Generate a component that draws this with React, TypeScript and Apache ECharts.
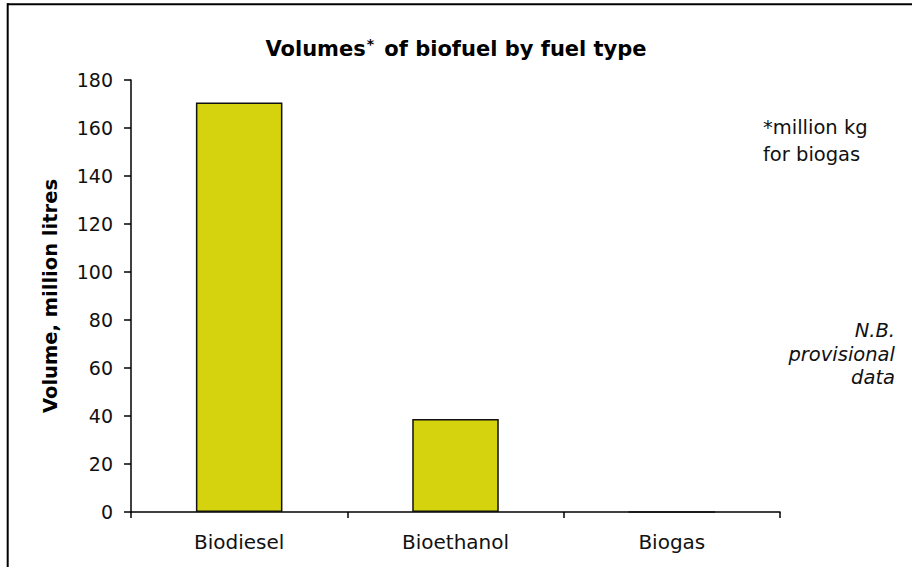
import React, { useEffect, useRef } from "react";
import * as echarts from "echarts";

const categories = ["Biodiesel", "Bioethanol", "Biogas"];
const volumes = [170.6, 38.8, 0];
const yMin = 0;
const yMax = 180;
const yInterval = 20;
const titleText = "{a|Volumes}{s|*}{a| of biofuel by fuel type}";
const yAxisTitle = "Volume, million litres";
const footnoteLines = ["*million kg", "for biogas"];
const noteLines = ["N.B.", "provisional", "data"];

const FONT = "DejaVu Sans";

export default function App() {
  const ref = useRef<HTMLDivElement>(null);
  useEffect(() => {
    document.body.style.margin = "0";
    if (!ref.current) return;
    const chart = echarts.init(ref.current, null, { renderer: "svg" });
    chart.setOption({
      animation: false,
      backgroundColor: "#ffffff",
      title: {
        text: titleText,
        left: "center",
        top: 32,
        textStyle: {
          rich: {
            a: { fontFamily: FONT, fontWeight: "bold", fontSize: 21, color: "#000" },
            s: { fontFamily: FONT, fontWeight: "bold", fontSize: 14, color: "#000", verticalAlign: "top", padding: [0, 3, 10, 1] },
          },
        },
      },
      grid: { left: 131, right: 132, top: 80, bottom: 55, containLabel: false },
      xAxis: {
        type: "category",
        data: categories,
        axisLine: { show: true, lineStyle: { color: "#000", width: 1.5 } },
        axisTick: { show: true, alignWithLabel: false, length: 6, lineStyle: { color: "#000", width: 1.5 } },
        axisLabel: { fontFamily: FONT, fontSize: 20, color: "#111", margin: 20 },
        splitLine: { show: false },
      },
      yAxis: {
        type: "value",
        min: yMin,
        max: yMax,
        interval: yInterval,
        axisLine: { show: true, lineStyle: { color: "#000", width: 1.5 } },
        axisTick: { show: true, length: 7, lineStyle: { color: "#000", width: 1.5 } },
        axisLabel: { fontFamily: FONT, fontSize: 19, color: "#111", margin: 18 },
        splitLine: { show: false },
      },
      series: [
        {
          type: "bar",
          data: volumes,
          barWidth: "40%",
          itemStyle: { color: "#D5D20E", borderColor: "#111", borderWidth: 1.5 },
        },
      ],
      graphic: [
        {
          type: "line",
          shape: { x1: 7, y1: 4.3, x2: 912, y2: 4.3 },
          style: { stroke: "#000", lineWidth: 2 },
          silent: true,
        },
        {
          type: "line",
          shape: { x1: 7.7, y1: 3.3, x2: 7.7, y2: 567 },
          style: { stroke: "#000", lineWidth: 2 },
          silent: true,
        },
        {
          type: "text",
          x: 50,
          y: 296,
          rotation: Math.PI / 2,
          style: {
            text: yAxisTitle,
            fontFamily: FONT,
            fontWeight: "bold",
            fontSize: 19.5,
            fill: "#000",
            align: "center",
            verticalAlign: "middle",
          },
        },
        {
          type: "text",
          x: 763,
          y: 141,
          style: {
            text: footnoteLines.join("\n"),
            fontFamily: FONT,
            fontSize: 19.5,
            lineHeight: 27,
            fill: "#111",
            align: "left",
            verticalAlign: "middle",
          },
        },
        {
          type: "text",
          x: 895,
          y: 354,
          style: {
            text: noteLines.join("\n"),
            fontFamily: FONT,
            fontStyle: "italic",
            fontSize: 19.5,
            lineHeight: 23.5,
            fill: "#111",
            align: "right",
            verticalAlign: "middle",
          },
        },
      ],
    });
    return () => chart.dispose();
  }, []);
  return <div ref={ref} style={{ width: 912, height: 567 }} />;
}
